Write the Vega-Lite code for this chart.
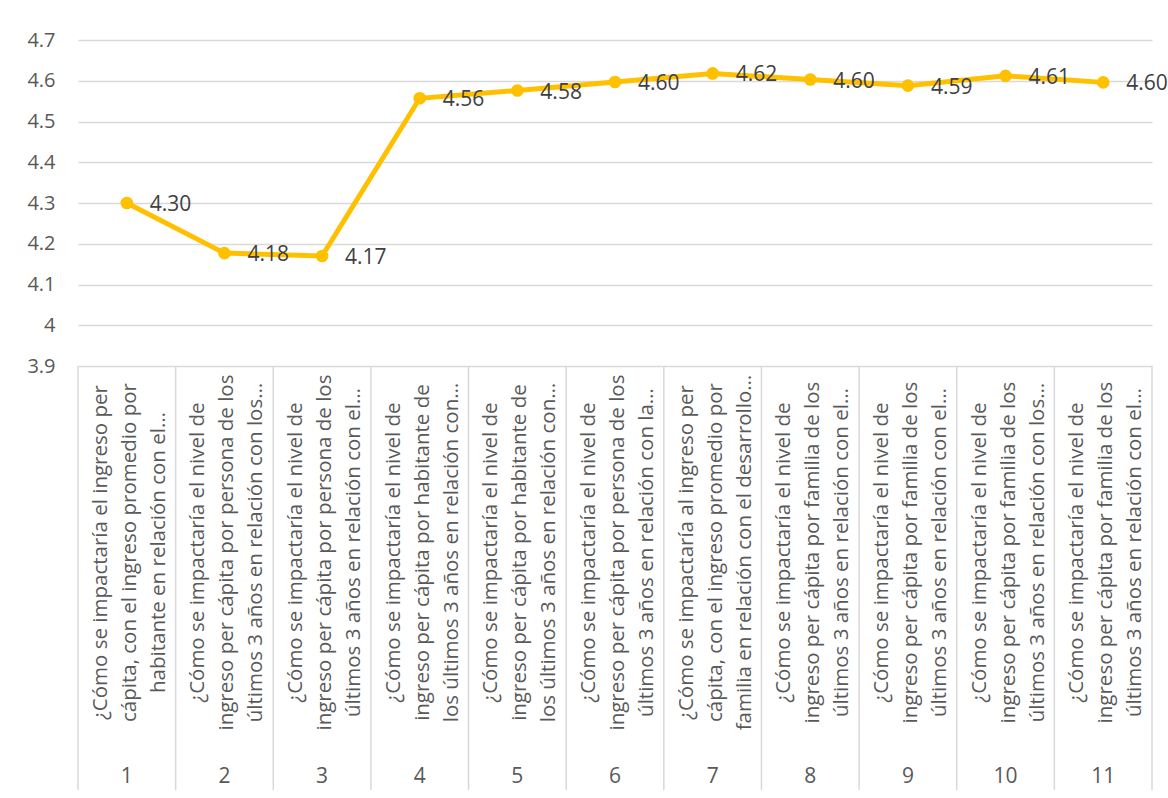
{
  "$schema": "https://vega.github.io/schema/vega-lite/v6.json",
  "padding": {"left": 26, "top": 30, "right": 0, "bottom": 0},
  "bounds": "flush",
  "background": "white",
  "config": {
    "font": "Open Sans",
    "view": {"stroke": null},
    "concat": {"spacing": 0}
  },
  "datasets": {
    "d": [
      {"n": 1, "score": 4.30, "label": "¿Cómo se impactaría el ingreso per\ncápita, con el ingreso promedio por\nhabitante en relación con el…"},
      {"n": 2, "score": 4.177, "label": "¿Cómo se impactaría el nivel de\ningreso per cápita por persona de los\núltimos 3 años en relación con los…"},
      {"n": 3, "score": 4.17, "label": "¿Cómo se impactaría el nivel de\ningreso per cápita por persona de los\núltimos 3 años en relación con el…"},
      {"n": 4, "score": 4.557, "label": "¿Cómo se impactaría el nivel de\ningreso per cápita por habitante de\nlos últimos 3 años en relación con…"},
      {"n": 5, "score": 4.576, "label": "¿Cómo se impactaría el nivel de\ningreso per cápita por habitante de\nlos últimos 3 años en relación con…"},
      {"n": 6, "score": 4.597, "label": "¿Cómo se impactaría el nivel de\ningreso per cápita por persona de los\núltimos 3 años en relación con la…"},
      {"n": 7, "score": 4.618, "label": "¿Cómo se impactaría al ingreso per\ncápita, con el ingreso promedio por\nfamilia en relación con el desarrollo…"},
      {"n": 8, "score": 4.603, "label": "¿Cómo se impactaría el nivel de\ningreso per cápita por familia de los\núltimos 3 años en relación con el…"},
      {"n": 9, "score": 4.588, "label": "¿Cómo se impactaría el nivel de\ningreso per cápita por familia de los\núltimos 3 años en relación con el…"},
      {"n": 10, "score": 4.612, "label": "¿Cómo se impactaría el nivel de\ningreso per cápita por familia de los\núltimos 3 años en relación con los…"},
      {"n": 11, "score": 4.596, "label": "¿Cómo se impactaría el nivel de\ningreso per cápita por familia de los\núltimos 3 años en relación con el…"}
    ]
  },
  "vconcat": [
    {
      "width": 1074,
      "height": 326,
      "data": {"name": "d"},
      "encoding": {
        "x": {"field": "n", "type": "ordinal", "axis": null},
        "y": {
          "field": "score",
          "type": "quantitative",
          "scale": {"domain": [3.9, 4.7], "nice": false, "zero": false},
          "axis": {
            "title": null,
            "values": [3.9, 4, 4.1, 4.2, 4.3, 4.4, 4.5, 4.6, 4.7],
            "labelExpr": "'' + datum.value",
            "domain": false,
            "ticks": false,
            "tickSize": 0,
            "labelPadding": 23,
            "labelFontSize": 20,
            "labelColor": "#595959",
            "gridColor": "#d9d9d9",
            "gridWidth": 1.5
          }
        }
      },
      "layer": [
        {"mark": {"type": "line", "color": "#FFC000", "strokeWidth": 5}},
        {"mark": {"type": "point", "filled": true, "opacity": 1, "color": "#FFC000", "size": 160}},
        {
          "mark": {"type": "text", "align": "left", "baseline": "middle", "dx": 23, "dy": 2, "fontSize": 21, "color": "#404040"},
          "encoding": {"text": {"field": "score", "type": "quantitative", "format": ".2f"}}
        }
      ]
    },
    {
      "width": 1074,
      "height": 424,
      "data": {"name": "d"},
      "encoding": {
        "x": {
          "field": "n",
          "type": "ordinal",
          "scale": {"type": "band", "paddingInner": 0, "paddingOuter": 0},
          "axis": null
        }
      },
      "layer": [
        {
          "mark": {"type": "rule", "color": "#d9d9d9", "strokeWidth": 1.5},
          "encoding": {"x": {"field": "n", "type": "ordinal", "bandPosition": 0}}
        },
        {
          "transform": [{"filter": "datum.n == 11"}],
          "mark": {"type": "rule", "color": "#d9d9d9", "strokeWidth": 1.5},
          "encoding": {"x": {"field": "n", "type": "ordinal", "bandPosition": 1}}
        },
        {
          "mark": {"type": "text", "angle": 270, "align": "center", "baseline": "middle", "lineBreak": "\n", "fontSize": 20.5, "lineHeight": 29, "dy": -26, "color": "#595959"},
          "encoding": {
            "text": {"field": "label"},
            "y": {"datum": 0.56, "type": "quantitative", "scale": {"domain": [0, 1]}, "axis": null}
          }
        },
        {
          "mark": {"type": "text", "align": "center", "baseline": "middle", "fontSize": 21, "color": "#595959"},
          "encoding": {
            "text": {"field": "n"},
            "y": {"datum": 0.031, "type": "quantitative", "scale": {"domain": [0, 1]}, "axis": null}
          }
        }
      ]
    }
  ]
}
